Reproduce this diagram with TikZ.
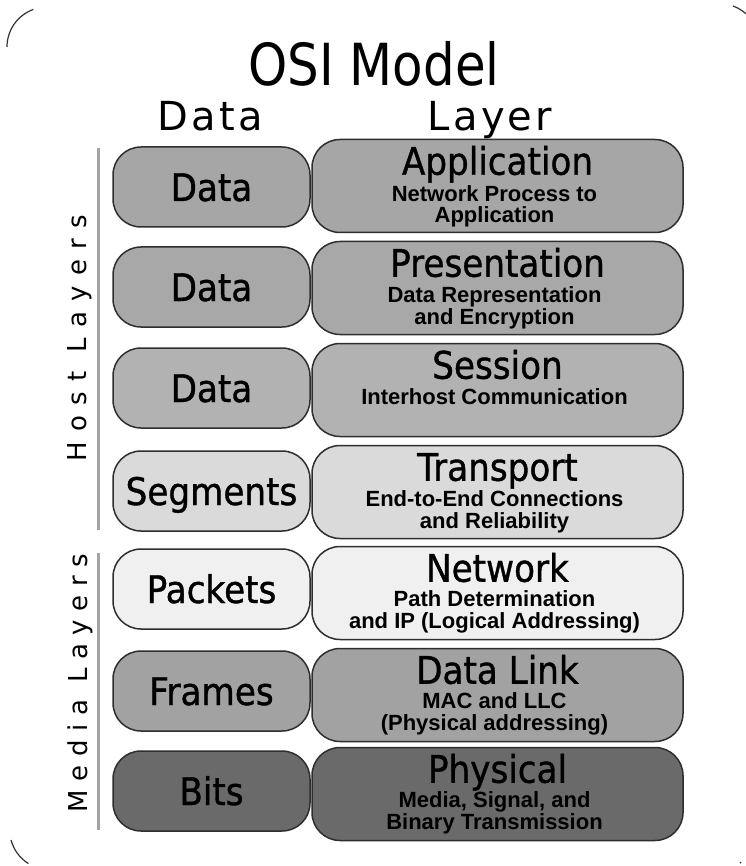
\documentclass[tikz,border=0pt]{standalone}
\usepackage{fontspec}
\setmainfont{DejaVu Sans}
\newfontfamily\titlefont[FakeStretch=0.86]{DejaVu Sans}
\newfontfamily\headfont[LetterSpace=8]{DejaVu Sans}
\newfontfamily\boxfont[FakeStretch=0.9,FakeBold=1]{DejaVu Sans}
\newfontfamily\subfont{Liberation Sans}
\newfontfamily\hostfont[LetterSpace=40]{DejaVu Sans}
\newfontfamily\mediafont[LetterSpace=33]{DejaVu Sans}
\usetikzlibrary{calc}

\definecolor{boxline}{HTML}{2E2E2E}
\definecolor{stripgray}{HTML}{A4A4A4}
\definecolor{appgray}{HTML}{A6A6A6}
\definecolor{presgray}{HTML}{A8A8A8}
\definecolor{sessgray}{HTML}{B2B2B2}
\definecolor{transgray}{HTML}{DADADA}
\definecolor{netgray}{HTML}{F0F0F0}
\definecolor{linkgray}{HTML}{A2A2A2}
\definecolor{physgray}{HTML}{6A6A6A}

% one layer: right box, left box, their main labels
\newcommand\osirow[6]{%
  \node[rbox, fill=#4] (r#1) at (497.5,#3) {};
  \node[lbox, fill=#4] (l#1) at (211.5,#2) {};
  \node[boxtext] (lt#1) at ($(l#1.center)+(0,14)$) {#5};
  \node[boxtext] (rt#1) at ($(r#1.north)+(0,36)$) {#6};
}

\begin{document}
\begin{tikzpicture}[x=1pt,y=-1pt,
  box/.style={draw=boxline, line width=1.5pt, rounded corners=28pt, inner sep=0pt},
  lbox/.style={box, minimum width=197pt, minimum height=80pt},
  rbox/.style={box, minimum width=371pt, minimum height=93pt},
  boxtext/.style={font=\boxfont\fontsize{38}{40}\selectfont, anchor=base, inner sep=0pt},
  subtext/.style={font=\subfont\bfseries\fontsize{22}{24}\selectfont, anchor=base, inner sep=0pt},
  headtext/.style={font=\headfont\fontsize{40}{42}\selectfont, anchor=base, inner sep=0pt},
  strip/.style={draw=stripgray, line width=3pt},
  frame/.style={draw=black!80, line width=1.2pt}
]
\useasboundingbox (0,0) rectangle (745,866);

% faint rounded outer frame, only its corners show
\draw[frame] (7,47) arc[start angle=180, end angle=250, radius=40];
\draw[frame] (733,6) arc[start angle=290, end angle=318, radius=40];
\draw[frame] (11,840) arc[start angle=165, end angle=122, radius=40];
\draw[frame] (741,862) arc[start angle=30, end angle=45, radius=6];

% headings
\node[font=\titlefont\fontsize{58}{60}\selectfont, anchor=base, inner sep=0pt] (title) at (374,86) {OSI Model};
\node[headtext] (hdata) at (210,131) {Data};
\node[headtext] (hlayer) at (490,131) {Layer};

% layers
\osirow{1}{187}{186}{appgray}{Data}{Application}
\node[subtext] (s1a) at ($(r1.north)+(-3,63)$) {Network Process to};
\node[subtext] (s1b) at ($(r1.north)+(-3,84)$) {Application};

\osirow{2}{287}{288}{presgray}{Data}{Presentation}
\node[subtext] (s2a) at ($(r2.north)+(-3,62)$) {Data Representation};
\node[subtext] (s2b) at ($(r2.north)+(-3,84)$) {and Encryption};

\osirow{3}{388}{390}{sessgray}{Data}{Session}
\node[subtext] (s3a) at ($(r3.north)+(-3,62)$) {Interhost Communication};

\osirow{4}{491}{492}{transgray}{Segments}{Transport}
\node[subtext] (s4a) at ($(r4.north)+(-3,62)$) {End-to-End Connections};
\node[subtext] (s4b) at ($(r4.north)+(-3,84)$) {and Reliability};

\osirow{5}{589}{593}{netgray}{Packets}{Network}
\node[subtext] (s5a) at ($(r5.north)+(-3,61)$) {Path Determination};
\node[subtext] (s5b) at ($(r5.north)+(-3,83)$) {and IP (Logical Addressing)};

\osirow{6}{691}{695}{linkgray}{Frames}{Data Link}
\node[subtext] (s6a) at ($(r6.north)+(-3,61)$) {MAC and LLC};
\node[subtext] (s6b) at ($(r6.north)+(-3,83)$) {(Physical addressing)};

\osirow{7}{791}{794}{physgray}{Bits}{Physical}
\node[subtext] (s7a) at ($(r7.north)+(-3,61)$) {Media, Signal, and};
\node[subtext] (s7b) at ($(r7.north)+(-3,83)$) {Binary Transmission};

% layer groups on the left
\coordinate (hosttop) at (98,148);
\coordinate (hostbot) at (98,530);
\coordinate (mediatop) at (98,553);
\coordinate (mediabot) at (98,830);
\draw[strip] (hosttop) -- (hostbot);
\draw[strip] (mediatop) -- (mediabot);
\node[font=\hostfont\fontsize{26}{28}\selectfont, rotate=90, inner sep=0pt] (host) at (80,338) {Host Layers};
\node[font=\mediafont\fontsize{26}{28}\selectfont, rotate=90, inner sep=0pt] (media) at (80,683) {Media Layers};
\end{tikzpicture}
\end{document}
